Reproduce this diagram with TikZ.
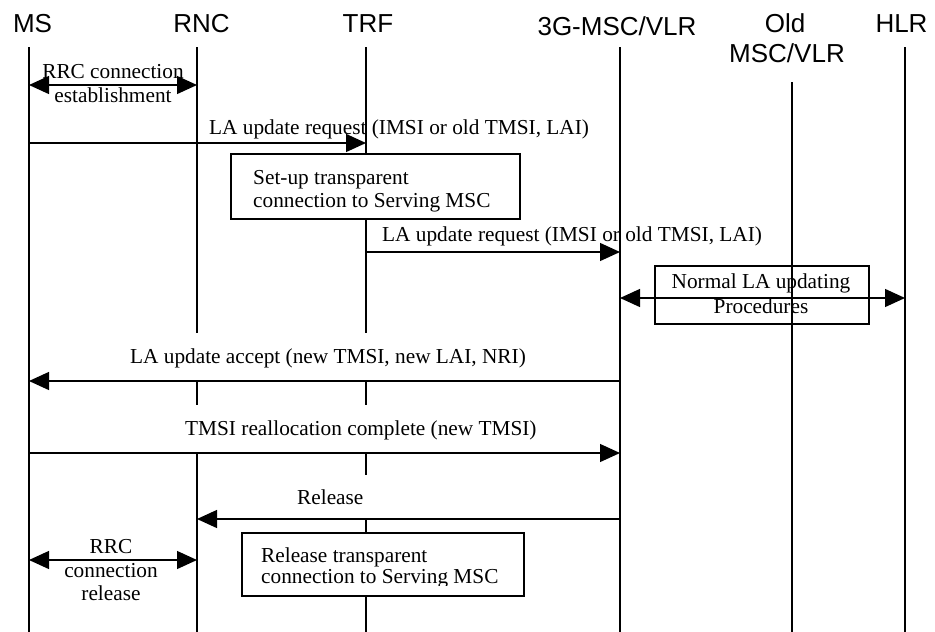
\documentclass[tikz,border=0pt]{standalone}
\usepackage{fontspec}
\setmainfont{Liberation Serif}
\newfontfamily\hdrfont{Liberation Sans}
\usetikzlibrary{arrows.meta}

\begin{document}
\begin{tikzpicture}[x=1pt,y=1pt,
  life/.style={line width=1.3pt},
  msg/.style={line width=1.3pt,-{Triangle[length=20pt,width=18pt]}},
  duplex/.style={line width=1.3pt,{Triangle[length=20pt,width=18pt]}-{Triangle[length=20pt,width=18pt]}},
  hdr/.style={font=\hdrfont\fontsize{26}{30}\selectfont, inner sep=0pt, anchor=base},
  lbl/.style={font=\fontsize{21.3}{24}\selectfont, inner sep=0pt, anchor=base},
  lblw/.style={lbl, anchor=base west},
  procbox/.style={draw, line width=1.8pt, inner sep=0pt, anchor=north west},
]
\useasboundingbox (0,0) rectangle (935,-632);

% entity headers
\node[hdr] (h-ms)  at (32.5,-32) {MS};
\node[hdr] (h-rnc) at (201.5,-32) {RNC};
\node[hdr] (h-trf) at (368,-32) {TRF};
\node[hdr] (h-msc) at (617,-35) {3G-MSC/VLR};
\node[hdr] (h-old1) at (785,-32) {Old};
\node[hdr] (h-old2) at (787,-62) {MSC/VLR};
\node[hdr] (h-hlr) at (901.5,-32) {HLR};

% lifeline end points
\coordinate (ms-top)  at (29,-47);   \coordinate (ms-bot)  at (29,-632);
\coordinate (rnc-top) at (197,-47);  \coordinate (rnc-bot) at (197,-632);
\coordinate (trf-top) at (366,-47);  \coordinate (trf-bot) at (366,-632);
\coordinate (msc-top) at (620,-47);  \coordinate (msc-bot) at (620,-632);
\coordinate (old-top) at (792,-82);  \coordinate (old-bot) at (792,-632);
\coordinate (hlr-top) at (905,-47);  \coordinate (hlr-bot) at (905,-632);

% message levels
\coordinate (y-rrc1) at (0,-85);
\coordinate (y-req1) at (0,-143);
\coordinate (y-req2) at (0,-252);
\coordinate (y-proc) at (0,-298);
\coordinate (y-acc)  at (0,-381);
\coordinate (y-tmsi) at (0,-453);
\coordinate (y-rel)  at (0,-519);
\coordinate (y-rrc2) at (0,-560);
% ends of the broken lifeline pieces
\coordinate (y-g1) at (0,-333);
\coordinate (y-g2) at (0,-405);
\coordinate (y-g3) at (0,-475);

% lifelines
\draw[life] (ms-top) -- (ms-bot);
\draw[life] (rnc-top) -- (rnc-top |- y-g1);
\draw[life] (rnc-top |- y-acc) -- (rnc-top |- y-g2);
\draw[life] (rnc-top |- y-tmsi) -- (rnc-bot);
\draw[life] (trf-top) -- (trf-top |- y-g1);
\draw[life] (trf-top |- y-acc) -- (trf-top |- y-g2);
\draw[life] (trf-top |- y-tmsi) -- (trf-top |- y-g3);
\draw[life] (trf-top |- y-rel) -- (trf-bot);
\draw[life] (msc-top) -- (msc-bot);
\draw[life] (old-top) -- (old-bot);
\draw[life] (hlr-top) -- (hlr-bot);

% RRC connection establishment
\draw[duplex] (ms-top |- y-rrc1) -- (rnc-top |- y-rrc1);
\node[lbl] (t-rrc1a) at (113,-78) {RRC connection};
\node[lbl] (t-rrc1b) at (113,-102) {establishment};

% LA update request MS -> TRF
\node[lblw] (t-req1) at (209,-134) {LA update request (IMSI or old TMSI, LAI)};
\draw[msg] (ms-top |- y-req1) -- (trf-top |- y-req1);

% set-up of the transparent connection
\node[procbox, fill=white, minimum width=289pt, minimum height=65pt] (b-setup) at (230,-153) {};
\node[lblw] (t-setup1) at (253,-184) {Set-up transparent};
\node[lblw] (t-setup2) at (253,-207) {connection to Serving MSC};

% LA update request TRF -> 3G-MSC/VLR
\node[lblw] (t-req2) at (382,-241) {LA update request (IMSI or old TMSI, LAI)};
\draw[msg] (trf-top |- y-req2) -- (msc-top |- y-req2);

% normal LA updating procedures
\node[procbox, minimum width=214pt, minimum height=58pt] (b-proc) at (654,-265) {};
\node[lbl] (t-proc1) at (761,-288) {Normal LA updating};
\node[lbl] (t-proc2) at (761,-313) {Procedures};
\draw[duplex] (msc-top |- y-proc) -- (hlr-top |- y-proc);

% LA update accept
\node[lbl] (t-acc) at (328,-363) {LA update accept (new TMSI, new LAI, NRI)};
\draw[msg] (msc-top |- y-acc) -- (ms-top |- y-acc);

% TMSI reallocation complete
\node[lblw] (t-tmsi) at (185,-435) {TMSI reallocation complete (new TMSI)};
\draw[msg] (ms-top |- y-tmsi) -- (msc-top |- y-tmsi);

% Release
\node[lblw] (t-rel) at (297,-504) {Release};
\draw[msg] (msc-top |- y-rel) -- (rnc-top |- y-rel);

% release of the transparent connection
\node[procbox, fill=white, minimum width=282pt, minimum height=63pt] (b-release) at (241,-532) {};
\node[lblw] (t-release1) at (261,-562) {Release transparent};
\begin{scope}
  \clip (241,-532) rectangle (523,-585.5);
  \node[lblw] (t-release2) at (261,-583) {connection to Serving MSC};
\end{scope}

% RRC connection release
\draw[duplex] (ms-top |- y-rrc2) -- (rnc-top |- y-rrc2);
\node[lbl] (t-rrc2a) at (111,-553) {RRC};
\node[lbl] (t-rrc2b) at (111,-577) {connection};
\node[lbl] (t-rrc2c) at (111,-600) {release};
\end{tikzpicture}
\end{document}
